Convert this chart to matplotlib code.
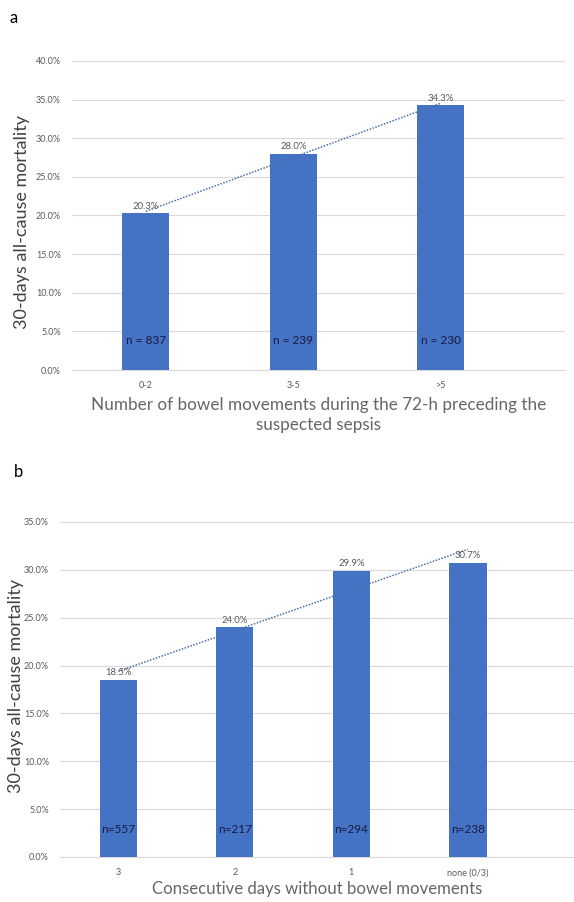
import numpy as np
import matplotlib.pyplot as plt

plt.rcParams['font.family'] = ['Lato', 'DejaVu Sans']

# Panel a data
cats_a = ["0-2", "3-5", ">5"]
mort_a = [20.3, 28.0, 34.3]
n_a = ["n = 837", "n = 239", "n = 230"]

# Panel b data
cats_b = ["3", "2", "1", "none (0/3)"]
mort_b = [18.5, 24.0, 29.9, 30.7]
n_b = ["n=557", "n=217", "n=294", "n=238"]

bar_col = "#4472C4"
tick_col = "#595959"
grid_col = "#D9D9D9"

fig = plt.figure(figsize=(5.74, 9.02), dpi=100)
ax_a = fig.add_axes([0.1254, 0.5898, 0.8586, 0.3426])
ax_b = fig.add_axes([0.1045, 0.0499, 0.8955, 0.3714])


def draw_panel(ax, cats, vals, nlabels, ymax, xright, n_y, width, xlabel,
               ylabel_xy, xlabel_pad, xlabel_size):
    x = np.arange(len(cats))
    ax.bar(x, vals, width=width, color=bar_col, zorder=3)
    # linear trend line
    k, b = np.polyfit(x, vals, 1)
    ax.plot([x[0], x[-1]], [b, k * x[-1] + b], linestyle=(0, (1, 1)),
            color="#4A6FA5", linewidth=1.1, zorder=4)
    for xi, v, nl in zip(x, vals, nlabels):
        ax.text(xi, v + ymax * 0.008, f"{v:.1f}%", ha="center", va="bottom",
                fontsize=6.8, color=tick_col, zorder=5)
        ax.text(xi, n_y, nl, ha="center", va="center", fontsize=8.5,
                color="#1A1A40", zorder=5)
    ax.set_ylim(0, ymax)
    ax.set_xlim(-0.5, xright)
    ticks = np.arange(0, ymax + 0.1, 5)
    ax.set_yticks(ticks)
    ax.set_yticklabels([f"{t:.1f}%" for t in ticks])
    ax.set_xticks(x)
    ax.set_xticklabels(cats)
    ax.tick_params(axis="both", length=0, labelsize=6.5, colors=tick_col)
    ax.tick_params(axis="x", pad=8)
    ax.tick_params(axis="y", pad=8)
    ax.grid(axis="y", color=grid_col, linewidth=0.8, zorder=0)
    for s in ["top", "right", "left"]:
        ax.spines[s].set_visible(False)
    ax.spines["bottom"].set_color(grid_col)
    ax.set_xlabel(xlabel, fontsize=xlabel_size, color="#666666",
                  labelpad=xlabel_pad, linespacing=1.3)
    ax.set_ylabel("30-days all-cause mortality", fontsize=13, color="#404040")
    ax.yaxis.set_label_coords(*ylabel_xy)


draw_panel(ax_a, cats_a, mort_a, n_a, 40, 2.84, 3.8, 0.32,
           "Number of bowel movements during the 72-h preceding the\nsuspected sepsis",
           (-0.085, 0.48), 5, 12.3)
draw_panel(ax_b, cats_b, mort_b, n_b, 35, 3.91, 2.9, 0.32,
           "Consecutive days without bowel movements",
           (-0.07, 0.51), 3, 12.1)

fig.text(10 / 574, 1 - 18 / 902, "a", fontsize=12, va="center", ha="left")
fig.text(14 / 574, 1 - 472 / 902, "b", fontsize=12, va="center", ha="left")

fig.savefig("out.png", dpi=100)
